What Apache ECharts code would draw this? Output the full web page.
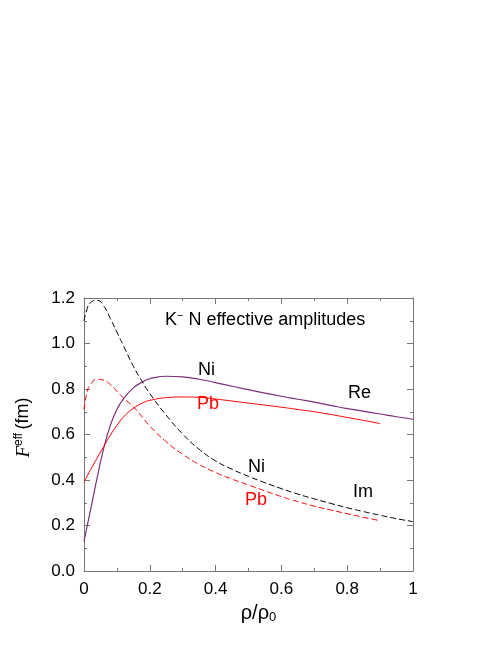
<!DOCTYPE html>
<html>
<head>
<meta charset="utf-8">
<script src="https://cdn.jsdelivr.net/npm/echarts@6/dist/echarts.min.js"></script>
<style>
  html, body { margin: 0; padding: 0; background: #fff; }
  #chart { width: 498px; height: 645px; }
</style>
</head>
<body>
<div id="chart"></div>
<script>
// rho / rho0 sample points
const rho = [0, 0.01, 0.02, 0.04, 0.06, 0.08, 0.1, 0.12, 0.15, 0.18, 0.2, 0.25, 0.3, 0.35, 0.4, 0.45, 0.5,
  0.55, 0.6, 0.65, 0.7, 0.75, 0.8, 0.85, 0.9, 0.95, 1.0];
// Ni, Re (purple solid) and Im (black dashed)
const niRe = [0.13, 0.2, 0.27, 0.41, 0.54, 0.64, 0.71, 0.757, 0.805, 0.833, 0.845, 0.856, 0.853, 0.843, 0.828, 0.812, 0.797,
  0.782, 0.768, 0.755, 0.742, 0.728, 0.714, 0.702, 0.69, 0.678, 0.667];
const niIm = [1.1, 1.155, 1.18, 1.19, 1.165, 1.11, 1.05, 0.99, 0.9, 0.825, 0.78, 0.685, 0.602, 0.535, 0.484, 0.447, 0.416,
  0.388, 0.362, 0.338, 0.317, 0.297, 0.278, 0.261, 0.245, 0.23, 0.217];
// Pb, Re (red solid) and Im (red dashed), up to 0.9
const pbRe = [0.39, 0.418, 0.445, 0.497, 0.547, 0.597, 0.64, 0.677, 0.715, 0.74, 0.75, 0.762, 0.765, 0.763, 0.756, 0.747, 0.738,
  0.729, 0.72, 0.71, 0.7, 0.688, 0.675, 0.662, 0.648];
const pbIm = [0.71, 0.79, 0.82, 0.843, 0.838, 0.82, 0.79, 0.76, 0.722, 0.672, 0.637, 0.568, 0.513, 0.468, 0.433, 0.404, 0.378,
  0.352, 0.327, 0.305, 0.285, 0.268, 0.252, 0.236, 0.221];

const xTicks = [0, 0.2, 0.4, 0.6, 0.8, 1];

const pairs = (ys) => ys.map((y, i) => [rho[i], y]);

const font = 'Liberation Sans, Arial, Helvetica, sans-serif';
const frame = '#777';

const axisCommon = {
  type: 'value',
  axisLine: { show: true, onZero: false, lineStyle: { color: frame, width: 1 } },
  axisTick: { show: true, inside: true, length: 6, lineStyle: { color: frame } },
  minorTick: { show: true, splitNumber: 2, length: 3, lineStyle: { color: frame } },
  splitLine: { show: false },
  minorSplitLine: { show: false }
};

const chart = echarts.init(document.getElementById('chart'));

chart.setOption({
  animation: false,
  backgroundColor: '#fff',
  grid: { left: 84, right: 85, top: 298, bottom: 74 },
  xAxis: [
    Object.assign({}, axisCommon, {
      min: 0, max: 1, interval: 0.2,
      name: '{a|ρ/ρ}{s|0}',
      nameLocation: 'middle',
      nameGap: 31,
      nameTextStyle: {
        padding: [0, 0, 0, 20],
        rich: {
          a: { fontSize: 20, fontFamily: font, color: '#000' },
          s: { fontSize: 13, fontFamily: font, color: '#000', verticalAlign: 'bottom', padding: [9, 0, 0, 0] }
        }
      },
      axisLabel: {
        fontSize: 17, fontFamily: font, color: '#000', margin: 10,
        formatter: (v) => (xTicks.indexOf(v) < 0 ? '' : (v === 0 ? '0' : v === 1 ? '1' : v.toFixed(1)))
      }
    }),
    Object.assign({}, axisCommon, {
      min: 0, max: 1, interval: 0.2, position: 'top',
      axisLabel: { show: false }
    })
  ],
  yAxis: [
    Object.assign({}, axisCommon, {
      min: 0, max: 1.2, interval: 0.2,
      name: '{f|F}{s|eff} {a|(fm)}',
      nameLocation: 'middle',
      nameGap: 50,
      nameTextStyle: {
        padding: [0, 0, 0, 14],
        rich: {
          f: { fontSize: 19, fontFamily: 'Liberation Serif, Times New Roman, serif', fontStyle: 'italic', color: '#000' },
          s: { fontSize: 12, fontFamily: font, color: '#000', verticalAlign: 'top', padding: [0, 0, 9, 0] },
          a: { fontSize: 18, fontFamily: font, color: '#000' }
        }
      },
      axisLabel: {
        fontSize: 17, fontFamily: font, color: '#000', margin: 9,
        formatter: (v) => v.toFixed(1)
      }
    }),
    Object.assign({}, axisCommon, {
      min: 0, max: 1.2, interval: 0.2, position: 'right',
      axisLabel: { show: false }
    })
  ],
  series: [
    {
      name: 'Ni Re', type: 'line', smooth: true, showSymbol: false,
      data: pairs(niRe),
      lineStyle: { color: '#7d2f7d', width: 1.2 }
    },
    {
      name: 'Ni Im', type: 'line', smooth: true, showSymbol: false,
      data: pairs(niIm),
      lineStyle: { color: '#000', width: 1, type: [6, 3] }
    },
    {
      name: 'Pb Re', type: 'line', smooth: true, showSymbol: false,
      data: pairs(pbRe),
      lineStyle: { color: '#ff0000', width: 1 }
    },
    {
      name: 'Pb Im', type: 'line', smooth: true, showSymbol: false,
      data: pairs(pbIm),
      lineStyle: { color: '#ff0000', width: 1, type: [6, 3] }
    }
  ],
  graphic: [
    {
      type: 'text', left: 165, top: 310,
      style: {
        text: '{a|K}{s|−}{a| N effective amplitudes}',
        rich: {
          a: { fontSize: 18, fontFamily: font, fill: '#000' },
          s: { fontSize: 11, fontFamily: font, fill: '#000', verticalAlign: 'top', padding: [0, 0, 9, 0] }
        }
      }
    },
    { type: 'text', left: 198, top: 361, style: { text: 'Ni', fontSize: 18, fontFamily: font, fill: '#000' } },
    { type: 'text', left: 197, top: 395, style: { text: 'Pb', fontSize: 18, fontFamily: font, fill: '#ff0000' } },
    { type: 'text', left: 348, top: 384, style: { text: 'Re', fontSize: 18, fontFamily: font, fill: '#000' } },
    { type: 'text', left: 248, top: 458, style: { text: 'Ni', fontSize: 18, fontFamily: font, fill: '#000' } },
    { type: 'text', left: 245, top: 491, style: { text: 'Pb', fontSize: 18, fontFamily: font, fill: '#ff0000' } },
    { type: 'text', left: 353, top: 483, style: { text: 'Im', fontSize: 18, fontFamily: font, fill: '#000' } }
  ]
});
</script>
</body>
</html>
